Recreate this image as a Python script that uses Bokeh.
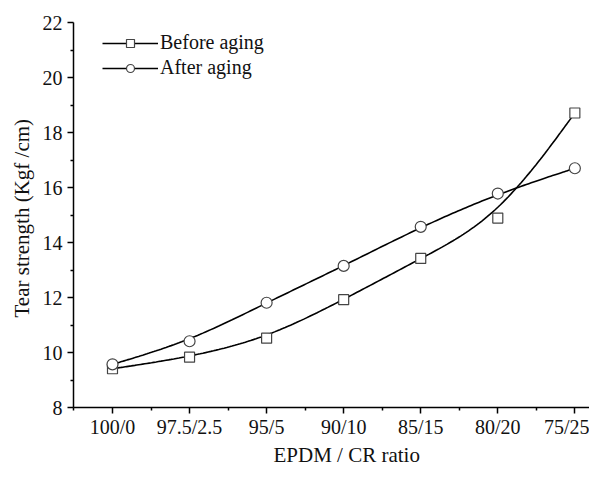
import numpy as np
from bokeh.plotting import figure
from bokeh.models import FixedTicker, Legend, LegendItem, Range1d, Title
from bokeh.embed import file_html
from bokeh.resources import INLINE

categories = ["100/0", "97.5/2.5", "95/5", "90/10", "85/15", "80/20", "75/25"]
before_aging = [9.41, 9.83, 10.52, 11.92, 13.42, 14.89, 18.71]
after_aging = [9.57, 10.41, 11.81, 13.15, 14.57, 15.78, 16.70]
y_ticks = [8, 10, 12, 14, 16, 18, 20, 22]

FONT = "Liberation Serif"


def bspline(xs, ys, n=30):
    """Uniform cubic B-spline using the data as control points (endpoints clamped)."""
    P = np.column_stack([xs, ys]).astype(float)
    Q = np.vstack([P[0], P[0], P, P[-1], P[-1]])
    out = []
    t = np.linspace(0, 1, n)
    b0 = (1 - t) ** 3 / 6
    b1 = (3 * t**3 - 6 * t**2 + 4) / 6
    b2 = (-3 * t**3 + 3 * t**2 + 3 * t + 1) / 6
    b3 = t**3 / 6
    for i in range(len(Q) - 3):
        seg = (np.outer(b0, Q[i]) + np.outer(b1, Q[i + 1]) +
               np.outer(b2, Q[i + 2]) + np.outer(b3, Q[i + 3]))
        out.append(seg)
    c = np.vstack(out)
    return c[:, 0], c[:, 1]


xi = list(range(len(categories)))

p = figure(width=589, height=466, output_backend="svg", toolbar_location=None,
           x_range=Range1d(-0.506, 6.19), y_range=Range1d(8, 22),
           min_border_left=73, min_border_right=0, min_border_top=22,
           min_border_bottom=56)
p.outline_line_color = None
p.grid.visible = False
p.background_fill_color = "white"

bx, by = bspline(xi, before_aging)
ax, ay = bspline(xi, after_aging)

l1 = p.line(bx, by, line_color="black", line_width=1.6)
l2 = p.line(ax, ay, line_color="black", line_width=1.6)
s1 = p.scatter(xi, before_aging, marker="square", size=10, fill_color="white",
               line_color="#444444", line_width=1.2)
s2 = p.scatter(xi, after_aging, marker="circle", size=11, fill_color="white",
               line_color="#444444", line_width=1.2)

xa = p.xaxis[0]
xa.ticker = FixedTicker(ticks=xi, minor_ticks=[i + 0.5 for i in range(-1, 7)])
xa.major_label_overrides = {i: c for i, c in enumerate(categories)}
ya = p.yaxis[0]
ya.ticker = FixedTicker(ticks=y_ticks, minor_ticks=list(range(9, 22, 2)))

for a in (xa, ya):
    a.axis_line_color = "black"
    a.axis_line_width = 1.5
    a.major_tick_line_color = "black"
    a.major_tick_line_width = 1.5
    a.minor_tick_line_color = "black"
    a.minor_tick_line_width = 1.5
    a.major_tick_out = 6
    a.major_tick_in = 0
    a.minor_tick_out = 3
    a.minor_tick_in = 0
    a.major_label_text_font = FONT
    a.major_label_text_font_size = "20px"
    a.major_label_text_color = "#111111"
xa.major_label_standoff = 2
ya.major_label_standoff = 5

p.add_layout(Title(text="EPDM / CR ratio", align="left", offset=200, standoff=0,
                   text_font=FONT, text_font_size="21px", text_font_style="normal",
                   text_color="#111111"), "below")
p.add_layout(Title(text="Tear strength (Kgf /cm)", align="left", offset=90, standoff=12,
                   text_font=FONT, text_font_size="21px", text_font_style="normal",
                   text_color="#111111"), "left")

legend = Legend(items=[LegendItem(label="Before aging", renderers=[l1, s1]),
                       LegendItem(label="After aging", renderers=[l2, s2])],
                location=(29, 328), border_line_color=None, background_fill_alpha=0,
                padding=0, margin=0, spacing=2, glyph_width=56, glyph_height=20,
                label_standoff=2, label_text_font=FONT, label_text_font_size="20px",
                label_text_color="#111111")
p.add_layout(legend)

open("out.html", "w").write(file_html(p, INLINE))
